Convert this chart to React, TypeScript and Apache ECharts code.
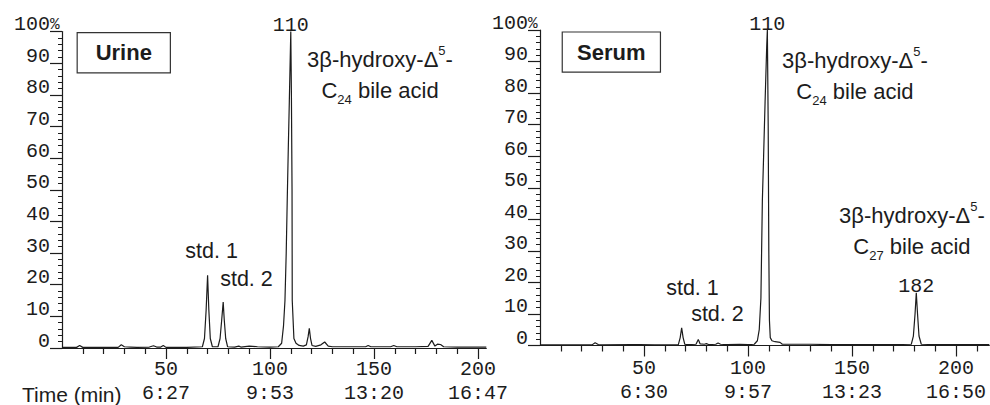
import React, { useEffect, useRef } from "react";
import * as echarts from "echarts";

// ---- data (scan number, relative intensity %) ----
const urineTrace: [number, number][] = [
  [0, 0.2], [7, 0.2], [8.5, 0.8], [10, 0.2], [27, 0.2], [28.5, 1.0], [30, 0.4], [33, 0.3], [36, 0.2],
  [42, 0.3], [44, 0.7], [45.5, 0.3], [47.5, 0.3], [48.7, 0.8], [50, 0.2], [60, 0.2], [67.5, 0.4],
  [68.5, 3], [69.3, 12], [70, 23], [70.6, 12], [71.3, 3], [72.3, 0.4], [75, 0.4], [76, 3], [76.8, 9],
  [77.5, 14.5], [78, 9], [78.7, 3], [79.6, 0.4], [83, 0.3], [85, 0.6], [86, 0.3], [90, 0.6], [94, 0.4],
  [100, 0.3], [104, 0.4], [105.6, 1.5], [106.5, 7], [107.2, 15], [107.8, 30], [108.3, 47], [108.8, 63],
  [109.3, 78], [110, 100], [110.3, 80], [110.6, 50], [110.7, 15], [111.5, 3], [112.5, 1.5], [114, 0.8],
  [116, 0.6], [117.5, 1.0], [118.3, 3.5], [118.9, 6.2], [119.5, 3], [120.2, 0.8], [122, 0.5], [124.5, 1.0],
  [126.3, 1.9], [128, 0.6], [130, 0.4], [140, 0.4], [146, 0.4], [147.2, 0.8], [148.5, 0.4], [158, 0.4],
  [159.5, 0.8], [161, 0.4], [170, 0.4], [176, 0.5], [177.8, 2.4], [179.3, 0.6], [180.5, 1.2], [182, 1.1],
  [183.5, 0.4], [190, 0.3], [204, 0.3],
];

const serumTrace: [number, number][] = [
  [0, 0.2], [25, 0.2], [26.5, 0.9], [28, 0.3], [30, 0.2], [44, 0.3], [48, 0.3], [55, 0.2], [66.5, 0.3],
  [67.4, 2.5], [68.1, 5.6], [68.8, 2.5], [69.6, 0.4], [71, 0.3], [75, 0.4], [76.1, 1.9], [77, 0.5],
  [79, 0.4], [80, 0.6], [81, 0.3], [84.5, 0.4], [85.6, 0.8], [86.8, 0.4], [90, 0.3], [96, 0.4], [100, 0.3],
  [103, 0.4], [104.5, 1.5], [105.4, 5], [106.2, 15], [106.9, 46], [107.5, 60], [108.2, 77], [109, 95],
  [109.3, 100], [109.7, 70], [110, 30], [110.3, 8], [110.7, 2.5], [111.5, 1.5], [113, 1.2], [115.4, 1.0],
  [116.5, 0.4], [120, 0.4], [130, 0.4], [140, 0.3], [150, 0.3], [170, 0.3], [178.5, 0.4], [179.5, 3],
  [180.3, 10], [180.9, 16.7], [181.5, 10], [182.2, 3], [183.3, 0.4], [190, 0.3], [216, 0.3],
];

// ---- axes / tick labels ----
const yMajorTicks = [0, 10, 20, 30, 40, 50, 60, 70, 80, 90, 100];
const yMinorTicks = [
  2, 4, 6, 8, 12, 14, 16, 18, 22, 24, 26, 28, 32, 34, 36, 38, 42, 44, 46, 48,
  52, 54, 56, 58, 62, 64, 66, 68, 72, 74, 76, 78, 82, 84, 86, 88, 92, 94, 96, 98,
];
const xMajorTicks = [50, 100, 150, 200];
const xMinorTicksUrine = [10, 20, 30, 40, 60, 70, 80, 90, 110, 120, 130, 140, 160, 170, 180, 190];
const xMinorTicksSerum = [10, 20, 30, 40, 60, 70, 80, 90, 110, 120, 130, 140, 160, 170, 180, 190, 210];
const urineTimeLabels = ["6:27", "9:53", "13:20", "16:47"];
const serumTimeLabels = ["6:30", "9:57", "13:23", "16:50"];
const urineXMax = 204;
const serumXMax = 216;

// ---- annotations ----
const urinePeakLabels = [{ x: 110, y: 100, text: "110" }];
const serumPeakLabels = [
  { x: 109.3, y: 100, text: "110" },
  { x: 180.9, y: 16.7, text: "182" },
];

const INK = "#1c1c1c";
const MONO = "'Liberation Mono', 'DejaVu Sans Mono', monospace";
const SANS = "'Liberation Sans', Arial, sans-serif";

const bileRich = {
  a: { fontFamily: SANS, fontSize: 22, color: INK, lineHeight: 31 },
  sup: { fontFamily: SANS, fontSize: 13, color: INK, lineHeight: 25, verticalAlign: "top" },
  sub: { fontFamily: SANS, fontSize: 13, color: INK, lineHeight: 14, verticalAlign: "bottom" },
};

function bileLabel(carbons: string) {
  return `{a|3β-hydroxy-Δ}{sup|5}{a|-}\n{a|C}{sub|${carbons}}{a| bile acid}`;
}

function textMark(x: number, y: number, formatter: string, extra: any = {}) {
  return {
    coord: [x, y],
    symbol: "circle",
    symbolSize: 0,
    label: {
      show: true,
      position: "inside",
      formatter,
      fontFamily: SANS,
      fontSize: 21.5,
      color: INK,
      ...extra,
    },
  };
}

function boxMark(x: number, y: number, text: string, width: number) {
  return textMark(x, y, text, {
    fontWeight: "bold",
    fontSize: 22,
    width,
    height: 39,
    lineHeight: 39,
    align: "center",
    verticalAlign: "middle",
    backgroundColor: "#fff",
    borderColor: "#333",
    borderWidth: 1.2,
  });
}

function peakMarks(list: { x: number; y: number; text: string }[]) {
  return list.map((p) => ({
    coord: [p.x, p.y],
    symbol: "circle",
    symbolSize: 0,
    label: {
      show: true,
      position: "top",
      distance: -2,
      formatter: p.text,
      fontFamily: MONO,
      fontSize: 20,
      color: INK,
      lineHeight: 16,
    },
  }));
}

function xAxes(gridIndex: number, max: number, minor: number[], times: string[], margin: number) {
  return [
    {
      type: "value",
      gridIndex,
      position: "bottom",
      min: 0,
      max,
      axisLine: { show: true, onZero: false, lineStyle: { color: INK, width: 1.2 } },
      axisTick: { show: true, customValues: xMajorTicks, length: 11, lineStyle: { color: INK, width: 1.2 } },
      axisLabel: {
        show: true,
        customValues: xMajorTicks,
        margin,
        fontFamily: MONO,
        fontSize: 20,
        lineHeight: 24,
        color: INK,
        formatter: (v: number) => `${v}\n${times[xMajorTicks.indexOf(v)] ?? ""}`,
      },
      splitLine: { show: false },
    },
    {
      type: "value",
      gridIndex,
      position: "bottom",
      min: 0,
      max,
      axisLine: { show: false, onZero: false },
      axisTick: { show: true, customValues: minor, length: 6, lineStyle: { color: INK, width: 1.2 } },
      axisLabel: { show: false },
      splitLine: { show: false },
    },
  ];
}

function yAxes(gridIndex: number) {
  return [
    {
      type: "value",
      gridIndex,
      position: "left",
      min: 0,
      max: 100,
      axisLine: { show: true, onZero: false, lineStyle: { color: INK, width: 1.2 } },
      axisTick: { show: true, customValues: yMajorTicks, length: 12, lineStyle: { color: INK, width: 1.2 } },
      axisLabel: {
        show: true,
        customValues: yMajorTicks,
        margin: 12,
        fontFamily: MONO,
        fontSize: 20,
        color: INK,
        verticalAlign: "bottom",
        lineHeight: 14,
        formatter: (v: number) => `${v}`,
      },
      splitLine: { show: false },
    },
    {
      type: "value",
      gridIndex,
      position: "left",
      min: 0,
      max: 100,
      axisLine: { show: false, onZero: false },
      axisTick: { show: true, customValues: yMinorTicks, length: 4, lineStyle: { color: INK, width: 1 } },
      axisLabel: { show: false },
      splitLine: { show: false },
    },
  ];
}

export default function App() {
  const ref = useRef<HTMLDivElement>(null);

  useEffect(() => {
    if (!ref.current) return;
    const chart = echarts.init(ref.current, undefined, { renderer: "svg" });

    const option: any = {
      animation: false,
      backgroundColor: "#ffffff",
      grid: [
        { left: 62, top: 31.5, right: 503.7, bottom: 56, containLabel: false },
        { left: 540, top: 30, right: 0.7, bottom: 59.5, containLabel: false },
      ],
      xAxis: [
        ...xAxes(0, urineXMax, xMinorTicksUrine, urineTimeLabels, 9),
        ...xAxes(1, serumXMax, xMinorTicksSerum, serumTimeLabels, 11),
      ],
      yAxis: [...yAxes(0), ...yAxes(1)],
      series: [
        {
          name: "Urine",
          type: "line",
          xAxisIndex: 0,
          yAxisIndex: 0,
          data: urineTrace,
          showSymbol: false,
          symbol: "none",
          lineStyle: { color: INK, width: 1.2 },
          silent: true,
          markPoint: {
            silent: true,
            data: [
              ...peakMarks(urinePeakLabels),
              textMark(71.9, 30.6, "std. 1"),
              textMark(88.7, 21.9, "std. 2"),
              textMark(152.9, 86.1, bileLabel("24"), { rich: bileRich, align: "center" }),
              boxMark(29.7, 93.3, "Urine", 92),
            ],
          },
        },
        {
          name: "Serum",
          type: "line",
          xAxisIndex: 2,
          yAxisIndex: 2,
          data: serumTrace,
          showSymbol: false,
          symbol: "none",
          lineStyle: { color: INK, width: 1.2 },
          silent: true,
          markPoint: {
            silent: true,
            data: [
              ...peakMarks(serumPeakLabels),
              textMark(73.3, 18.2, "std. 1"),
              textMark(85.3, 10.1, "std. 2"),
              textMark(151.4, 85.4, bileLabel("24"), { rich: bileRich, align: "center" }),
              textMark(178.8, 36.3, bileLabel("27"), { rich: bileRich, align: "center" }),
              boxMark(34.3, 93.0, "Serum", 97),
            ],
          },
        },
      ],
      graphic: [
        {
          type: "text",
          left: 22,
          top: 384,
          style: { text: "Time (min)", fontFamily: SANS, fontSize: 21, fill: INK },
        },
        {
          type: "text",
          x: 50,
          y: 33,
          style: { text: "%", fontFamily: MONO, fontSize: 16, fill: INK, textVerticalAlign: "bottom" },
        },
        {
          type: "text",
          x: 528,
          y: 32,
          style: { text: "%", fontFamily: MONO, fontSize: 16, fill: INK, textVerticalAlign: "bottom" },
        },
      ],
    };

    chart.setOption(option);
    return () => chart.dispose();
  }, []);

  return (
    <div
      ref={ref}
      style={{ position: "fixed", left: 0, top: 0, width: 990, height: 405, background: "#fff" }}
    />
  );
}
